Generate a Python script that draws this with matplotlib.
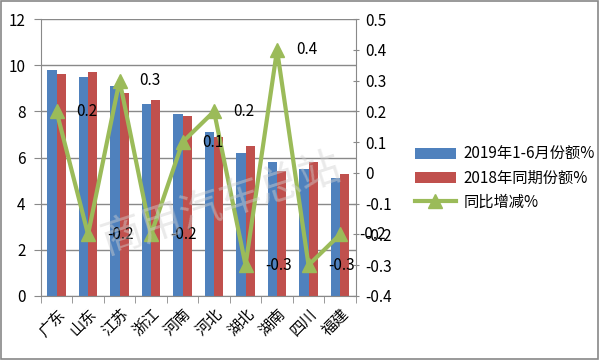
import matplotlib
matplotlib.use("Agg")
import matplotlib.pyplot as plt
import numpy as np

plt.rcParams['font.family'] = ['Noto Sans CJK SC', 'DejaVu Sans']

categories = ['广东', '山东', '江苏', '浙江', '河南', '河北', '湖北', '湖南', '四川', '福建']
share_2019 = [9.8, 9.5, 9.1, 8.3, 7.9, 7.1, 6.2, 5.8, 5.5, 5.1]
share_2018 = [9.6, 9.7, 8.8, 8.5, 7.8, 6.9, 6.5, 5.4, 5.8, 5.3]
yoy_change = [0.2, -0.2, 0.3, -0.2, 0.1, 0.2, -0.3, 0.4, -0.3, -0.2]
left_ticks = [0, 2, 4, 6, 8, 10, 12]
right_ticks = [-0.4, -0.3, -0.2, -0.1, 0, 0.1, 0.2, 0.3, 0.4, 0.5]

blue = '#4F81BD'
red = '#C0504D'
green = '#9BBB59'
grid = '#898989'

fig = plt.figure(figsize=(6, 3.6), dpi=100)
fig.patch.set_facecolor('white')
ax = fig.add_axes([0.068, 0.178, 0.525, 0.769])
x = np.arange(len(categories))
w = 0.29
ax.bar(x - w / 2, share_2019, w, color=blue, label='2019年1-6月份额%', zorder=2)
ax.bar(x + w / 2, share_2018, w, color=red, label='2018年同期份额%', zorder=2)
ax.set_xlim(-0.5, len(categories) - 0.5)
ax.set_ylim(0, 12)
ax.set_yticks(left_ticks)
ax.set_yticklabels([str(t) for t in left_ticks])
ax.yaxis.grid(True, color=grid, linewidth=1.0, zorder=0)
ax.set_axisbelow(True)
ax.set_xticks(x)
ax.set_xticklabels(categories, rotation=45, ha='right', rotation_mode='anchor', fontsize=11)
ax.set_xticks(np.arange(-0.5, len(categories), 1), minor=True)
ax.tick_params(axis='x', which='major', length=0, pad=7)
ax.tick_params(axis='x', which='minor', length=5, color=grid, direction='out')
ax.tick_params(axis='y', length=5, color=grid, labelsize=11, pad=6)
for s in ['top', 'right']:
    ax.spines[s].set_visible(False)
for s in ['left', 'bottom']:
    ax.spines[s].set_color(grid)

ax2 = ax.twinx()
ax2.plot(x, yoy_change, color=green, linewidth=3, marker='^', markersize=10,
         label='同比增减%', zorder=3)
ax2.set_ylim(-0.4, 0.5)
ax2.set_yticks(right_ticks)
ax2.set_yticklabels(['0' if t == 0 else f'{t:g}' for t in right_ticks])
ax2.tick_params(axis='y', length=5, color=grid, labelsize=11, direction='inout', pad=4)
for s in ['top', 'left', 'bottom']:
    ax2.spines[s].set_visible(False)
ax2.spines['right'].set_color(grid)
for xi, v in zip(x, yoy_change):
    ax2.annotate(f'{v:g}', (xi, v), xytext=(14, 0), textcoords='offset points',
                 va='center', ha='left', fontsize=11, color='black', zorder=4)

fig.text(0.37, 0.43, '商用汽车总站', fontsize=30, color='#d0d0d0', alpha=0.45,
         rotation=18, ha='center', va='center', zorder=10, fontweight='light')

h1, l1 = ax.get_legend_handles_labels()
h2, l2 = ax2.get_legend_handles_labels()
fig.legend(h1 + h2, l1 + l2, loc='center left', bbox_to_anchor=(0.668, 0.505),
           frameon=False, fontsize=11, handlelength=2.7, labelspacing=0.45,
           handletextpad=0.5)

fig.add_artist(plt.Rectangle((0.002, 0.003), 0.995, 0.993, transform=fig.transFigure,
                             fill=False, edgecolor='#888888', linewidth=1.2))
fig.savefig('out.png', dpi=100, facecolor='white')
